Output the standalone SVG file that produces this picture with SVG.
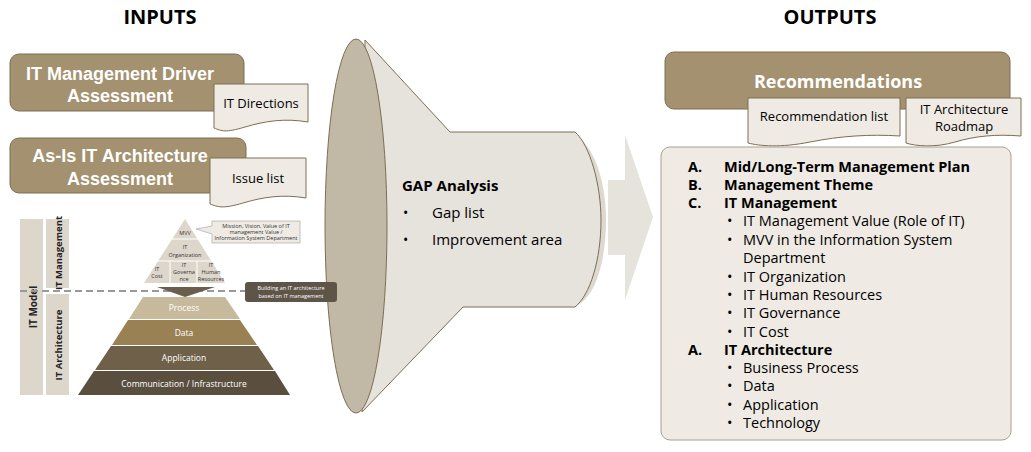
<svg xmlns="http://www.w3.org/2000/svg" width="1031" height="452" viewBox="0 0 1031 452">
<style>
text{font-family:"Open Sans","DejaVu Sans",sans-serif;}
.h{font-weight:bold;font-size:20px;fill:#000;text-anchor:middle}
.bt{font-family:"Liberation Sans",Arial,sans-serif;font-weight:bold;font-size:18px;fill:#fff;text-anchor:middle}
.box{fill:#a3916f;stroke:#7d6e55;stroke-width:1}
.doc{fill:#efebe4;stroke:#7d6e55;stroke-width:1}
.dt{font-size:13px;fill:#000;text-anchor:middle}
.li{font-size:14.5px;fill:#000}
.lb{font-size:14.5px;fill:#000;font-weight:bold}
.pt{font-size:5.5px;fill:#333;text-anchor:middle}
.lt{font-size:8.5px;fill:#fff;text-anchor:middle}
</style>
<rect width="1031" height="452" fill="#fff"/>
<text class="h" x="160" y="24">INPUTS</text>
<text class="h" x="830" y="24">OUTPUTS</text>

<g id="driver">
<rect class="box" x="10" y="54" width="234" height="57" rx="9"/>
<text class="bt" x="120" y="80">IT Management Driver</text>
<text class="bt" x="120" y="102">Assessment</text>
</g>
<g id="itdirections">
<path class="doc" d="M214 84 H308 V122 C285 118 265 121 245 127 S222 131 214 128 Z"/>
<text class="dt" x="261" y="108">IT Directions</text>
</g>
<g id="asis">
<rect class="box" x="10" y="138" width="236" height="55" rx="9"/>
<text class="bt" x="120" y="162">As-Is IT Architecture</text>
<text class="bt" x="120" y="185">Assessment</text>
</g>
<g id="issuelist">
<path class="doc" d="M210 158 H306 V198 C283 194 263 197 243 203 S218 207 210 204 Z"/>
<text class="dt" x="258" y="183">Issue list</text>
</g>

<g id="gap">
<path d="M578 137 C596 150 606 185 606 220 C606 260 596 295 578 305 Z" fill="#ddd8d0"/>
<path d="M365 40 L450 132 H575 C590 145 601 185 601 220 C601 260 590 295 575 307 H463 L362 412 Z" fill="#e6e2dc" stroke="#7d6e55" stroke-width="1"/>
<ellipse cx="356" cy="226" rx="31" ry="187" fill="#c1b8a6" stroke="#7d6e55" stroke-width="1"/>
<text x="402" y="191" font-size="15" font-weight="bold">GAP Analysis</text>
<text x="403" y="218" font-size="14">•</text>
<text x="432" y="218" font-size="15">Gap list</text>
<text x="403" y="245" font-size="14">•</text>
<text x="432" y="245" font-size="15">Improvement area</text>
</g>

<g id="itmodel">
<rect x="20" y="219" width="23" height="176" fill="#ddd6cb"/>
<text transform="translate(37,307) rotate(-90)" font-size="10" font-weight="bold" text-anchor="middle" fill="#222">IT Model</text>
<rect x="46" y="219" width="23" height="69" fill="#ddd6cb"/>
<text transform="translate(62,253) rotate(-90)" font-size="9.5" font-weight="bold" text-anchor="middle" fill="#222">IT Management</text>
<rect x="46" y="294" width="23" height="101" fill="#ddd6cb"/>
<text transform="translate(62,345) rotate(-90)" font-size="9.5" font-weight="bold" text-anchor="middle" fill="#222">IT Architecture</text>
<line x1="20" y1="291" x2="330" y2="291" stroke="#999" stroke-width="2" stroke-dasharray="7,4"/>
<polygon points="185,219 225,283 144,283" fill="#ddd6cb"/>
<line x1="172" y1="239" x2="198" y2="239" stroke="#fff"/>
<line x1="158" y1="261" x2="212" y2="261" stroke="#fff"/>
<line x1="170" y1="261" x2="170" y2="283" stroke="#fff"/>
<line x1="197" y1="261" x2="197" y2="283" stroke="#fff"/>
<text class="pt" x="185" y="235">MVV</text>
<text class="pt" x="185" y="249">IT</text>
<text class="pt" x="185" y="257">Organization</text>
<text class="pt" x="157" y="271">IT</text><text class="pt" x="157" y="278">Cost</text>
<text class="pt" x="184" y="267">IT</text><text class="pt" x="184" y="274">Governa</text><text class="pt" x="184" y="281">nce</text>
<text class="pt" x="211" y="267">IT</text><text class="pt" x="211" y="274">Human</text><text class="pt" x="211" y="281">Resources</text>
<polygon points="157,287 215,287 185,297" fill="#6b5e4c"/>
<path d="M212 221 H300 V243 H212 V234 L196 229 L212 226 Z" fill="#efebe4" stroke="#aaa" stroke-width="0.7"/>
<text class="pt" x="256" y="228">Mission, Vision, Value of IT</text>
<text class="pt" x="256" y="234">management Value /</text>
<text class="pt" x="256" y="240">Information System Department</text>
<rect x="245" y="282" width="92" height="20" rx="3" fill="#5e5548"/>
<text x="291" y="290" font-size="5.5" fill="#fff" text-anchor="middle">Building an IT architecture</text>
<text x="291" y="298" font-size="5.5" fill="#fff" text-anchor="middle">based on IT management</text>
<polygon points="143,297 225,297 240,319 129,319" fill="#c7b99b"/>
<polygon points="128,320 240,320 257,345 112,345" fill="#998154"/>
<polygon points="111,346 258,346 274,370 95,370" fill="#6e6049"/>
<polygon points="94,371 275,371 290,395 78,395" fill="#5a4f3e"/>
<text class="lt" x="184" y="311">Process</text>
<text class="lt" x="184" y="336">Data</text>
<text class="lt" x="184" y="361">Application</text>
<text class="lt" x="184" y="387">Communication / Infrastructure</text>
</g>

<g id="connectors">
<polygon points="608,180 625,180 625,135 653,217 625,300 625,255 608,255" fill="#e6e2dc"/>
</g>

<g id="recommendations">
<rect class="box" x="665" y="52" width="345" height="57" rx="9"/>
<text x="838" y="88" font-size="18" font-weight="bold" fill="#fff" text-anchor="middle">Recommendations</text>
</g>
<g id="reclist">
<path class="doc" d="M748 98 H900 V136 C870 134 840 136 810 142 S760 146 748 143 Z"/>
<text class="dt" x="824" y="121">Recommendation list</text>
</g>
<g id="roadmap">
<path class="doc" d="M906 98 H1021 V136 C996 134 975 136 955 142 S915 146 906 143 Z"/>
<text class="dt" x="964" y="114">IT Architecture</text>
<text class="dt" x="964" y="131">Roadmap</text>
</g>
<g id="content">
<rect x="661" y="147" width="350" height="293" rx="9" fill="#efebe4" stroke="#a8a090"/>
<text class="lb" x="688" y="172">A.</text><text class="lb" x="724" y="172">Mid/Long-Term Management Plan</text>
<text class="lb" x="688" y="190">B.</text><text class="lb" x="724" y="190">Management Theme</text>
<text class="lb" x="688" y="208">C.</text><text class="lb" x="724" y="208">IT Management</text>
<text class="li" x="727" y="226">•</text><text class="li" x="743" y="226">IT Management Value (Role of IT)</text>
<text class="li" x="727" y="245">•</text><text class="li" x="743" y="245">MVV in the Information System</text>
<text class="li" x="743" y="263">Department</text>
<text class="li" x="727" y="282">•</text><text class="li" x="743" y="282">IT Organization</text>
<text class="li" x="727" y="300">•</text><text class="li" x="743" y="300">IT Human Resources</text>
<text class="li" x="727" y="318">•</text><text class="li" x="743" y="318">IT Governance</text>
<text class="li" x="727" y="337">•</text><text class="li" x="743" y="337">IT Cost</text>
<text class="lb" x="688" y="355">A.</text><text class="lb" x="724" y="355">IT Architecture</text>
<text class="li" x="727" y="373">•</text><text class="li" x="743" y="373">Business Process</text>
<text class="li" x="727" y="391">•</text><text class="li" x="743" y="391">Data</text>
<text class="li" x="727" y="410">•</text><text class="li" x="743" y="410">Application</text>
<text class="li" x="727" y="428">•</text><text class="li" x="743" y="428">Technology</text>
</g>
</svg>
